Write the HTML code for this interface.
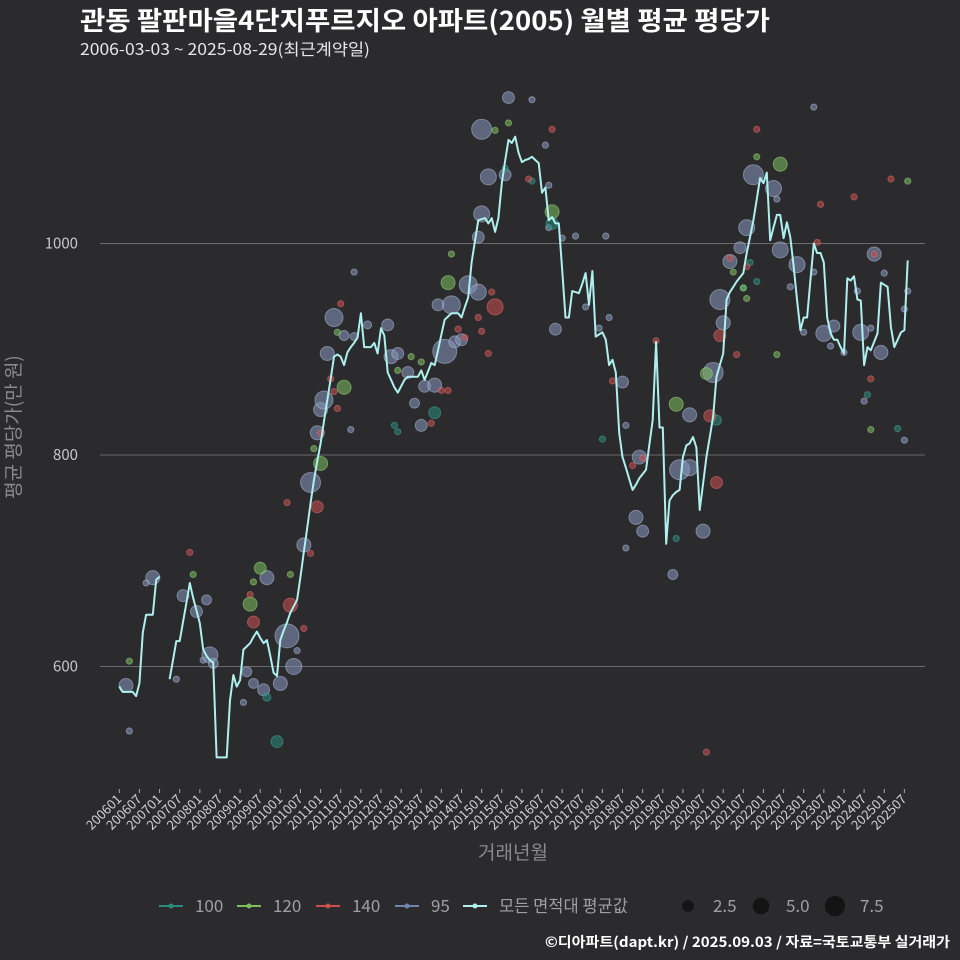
<!DOCTYPE html>
<html><head><meta charset="utf-8">
<style>
html,body{margin:0;padding:0;background:#2b2b2d;}
svg{display:block;font-family:"Noto Sans CJK KR","Liberation Sans",sans-serif;}
</style></head>
<body>
<svg id="chart" width="960" height="960" viewBox="0 0 960 960">
<rect x="0" y="0" width="960" height="960" fill="#2b2b2d"/>
<text x="80" y="30" fill="#ffffff" font-size="26" font-weight="bold" textLength="690" lengthAdjust="spacingAndGlyphs">관동 팔판마을4단지푸르지오 아파트(2005) 월별 평균 평당가</text>
<text x="80" y="55" fill="#e8e8e8" font-size="16" textLength="290" lengthAdjust="spacingAndGlyphs">2006-03-03 ~ 2025-08-29(최근계약일)</text>
<g id="grid"></g>
<g id="yticks"></g>
<g id="xticks"></g>
<g id="bubbles"></g>
<g id="line"></g>
<text x="20" y="427" fill="#8a8a8a" font-size="19" text-anchor="middle" transform="rotate(-90 20 427)">평균 평당가(만 원)</text>
<text x="513" y="859" fill="#8a8a8a" font-size="19" text-anchor="middle">거래년월</text>
<g id="legend"></g>
<text x="950" y="947" fill="#ffffff" font-size="14" font-weight="bold" text-anchor="end" textLength="405" lengthAdjust="spacingAndGlyphs">©디아파트(dapt.kr) / 2025.09.03 / 자료=국토교통부 실거래가</text>
</svg>
<script>
const yTicks = [600, 800, 1000];
const startYear = 2006;
const avgValues = [581,576,576,576,576,572,584,632,649,649,649,682,685,null,null,588,606,624,624,642,660,679,665,653,641,616,610,606,604,514,514,514,514,568,592,581,587,616,619,622,628,633,627,622,625,610,594,591,625,634,642,651,657,663,685,708,731,754,776,794,811,832,852,872,893,895,893,885,897,902,906,911,934,902,902,902,906,896,920,913,878,871,864,859,865,871,874,874,874,874,880,871,879,887,885,899,914,928,931,934,934,934,930,940,949,982,1002,1022,1023,1024,1019,1024,1011,1024,1057,1078,1098,1095,1101,1086,1077,1079,1080,1082,1079,1076,1048,1053,1022,1025,1019,1019,975,930,930,955,954,953,962,972,942,974,912,914,916,909,885,890,878,821,798,788,777,767,772,778,782,786,810,833,907,826,826,716,757,762,765,767,798,809,811,817,807,748,773,798,817,836,874,885,896,947,954,959,964,968,972,991,1006,1022,1042,1062,1057,1067,1003,1015,1027,1027,1005,1020,1006,978,947,918,930,930,965,1000,991,991,982,930,915,909,909,902,896,967,965,969,947,946,885,902,899,907,915,963,961,959,921,902,909,916,918,984];
const pts95Month = [2,3,8,10,17,19,23,25,27,26,28,38,37,40,43,44,48,52,50,53,55,57,59,60,62,64,67,70,70,61,69,74,80,81,83,86,88,90,91,94,97,100,95,99,104,107,102,107,108,110,108,115,116,123,128,127,128,130,132,136,143,139,145,146,150,151,151,154,156,155,165,167,170,170,174,177,180,179,182,185,187,189,195,196,197,202,204,200,207,210,213,212,216,221,224,227,225,228,220,207,234,235,234,222];
const pts95Value = [582,539,679,684,588,667,652,606,611,663,603,595,566,584,578,684,584,600,629,615,715,774,821,843,896,930,913,912,973,852,824,923,923,893,896,878,849,828,865,866,898,907,942,942,961,954,909,1006,1028,1063,1108,1065,1138,1136,1055,1093,1015,919,1005,1007,920,940,1007,930,869,828,712,741,728,798,687,786,788,838,728,878,925,947,983,996,1015,1065,1052,1042,994,980,916,959,973,915,922,903,897,916,920,897,990,972,955,1129,814,955,938,851];
const pts95Size = [3.6,0.7,0.7,3.6,0.7,2.6,2.6,0.7,4.7,1.8,1.8,1.8,0.7,1.8,2.6,3.6,3.6,4.7,10.5,0.7,3.6,7.3,3.6,3.6,3.6,5.9,1.8,1.2,0.7,5.9,0.7,1.2,2.6,3.6,2.6,2.6,1.8,2.6,2.6,3.6,10.5,2.6,2.6,5.9,5.9,4.7,2.6,2.6,4.7,4.7,7.3,2.6,2.6,0.7,0.7,0.7,0.7,2.6,0.7,0.7,0.7,0.7,0.7,0.7,2.6,0.7,0.7,3.6,2.6,3.6,1.8,7.3,4.7,3.6,3.6,7.3,3.6,7.3,3.6,2.6,4.7,7.3,4.7,0.7,4.7,4.7,0.7,0.7,0.7,4.7,2.6,0.7,0.7,4.7,0.7,3.6,3.6,0.7,0.7,0.7,0.7,0.7,0.7,0.7];
const pts100Month = [47,44,94,83,82,115,123,166,178,232,223,188,186,190,129,144];
const pts100Value = [529,571,840,822,828,1071,1059,721,833,825,857,982,958,964,1019,815];
const pts100Size = [2.6,1.2,2.6,0.7,0.7,0.7,0.7,0.7,1.8,0.7,0.7,0.7,0.7,0.7,2.6,0.7];
const pts120Month = [3,22,39,42,40,51,60,67,87,99,98,112,129,175,166,197,190,183,187,186,235,224,196,83,90,58,65,116];
const pts120Value = [605,687,659,693,680,687,792,864,893,990,963,1107,1030,877,848,1075,1082,973,948,958,1059,824,895,880,888,806,916,1114];
const pts120Size = [0.7,0.7,3.6,2.6,0.7,0.7,3.6,3.6,0.7,0.7,3.6,0.7,3.6,2.6,3.6,3.6,0.7,0.7,0.7,0.7,0.7,0.7,0.7,0.7,0.7,0.7,0.7,0.7];
const pts140Month = [21,40,39,50,59,51,55,57,66,63,64,65,60,96,98,93,112,111,107,108,110,101,103,122,129,160,147,156,153,176,178,179,184,182,187,190,175,209,219,230,208,225,224];
const pts140Value = [708,642,668,755,751,658,636,707,943,872,860,844,821,861,861,830,940,954,930,917,896,919,911,1061,1108,908,870,797,790,837,774,913,895,986,978,1108,519,1037,1044,1061,1001,990,872];
const pts140Size = [0.7,2.6,0.7,0.7,2.6,3.6,0.7,0.7,0.7,0.7,0.7,0.7,0.7,0.7,0.7,0.7,4.7,0.7,0.7,0.7,0.7,0.7,0.7,0.7,0.7,0.7,0.7,0.7,0.7,2.6,2.6,2.6,0.7,0.7,0.7,0.7,0.7,0.7,0.7,0.7,0.7,0.7,0.7];
const legendLabels = ['100','120','140','95','모든 면적대 평균값'];
const sizeLegend = [2.5, 5.0, 7.5];

const NS = 'http://www.w3.org/2000/svg';
const X0 = 119.3, XM = 3.355;
function xScale(m){ return X0 + m * XM; }
function yScale(v){ return 455 - (v - 800) * 1.0575; }
function rScale(s){ return 3.7 * Math.sqrt(s); }
function mk(tag, attrs, parent){ const e = document.createElementNS(NS, tag); for (const k in attrs) e.setAttribute(k, attrs[k]); parent.appendChild(e); return e; }

const grid = document.getElementById('grid');
const yt = document.getElementById('yticks');
yTicks.forEach(v => {
  const l = mk('line', {x1: 100, x2: 925, y1: yScale(v), y2: yScale(v), stroke: '#6a6a6a', 'stroke-width': 1}, grid);
  
  
  const t = mk('text', {x: 78, y: yScale(v) + 5, fill: '#c8c8c8', 'font-size': 15, 'text-anchor': 'end'}, yt);
  t.textContent = v;
  
  
});

const xt = document.getElementById('xticks');
const lastMonth = avgValues.length - 1;
for (let m = 0; m <= lastMonth; m += 6) {
  const x = xScale(m);
  const tk = mk('line', {x1: x, x2: x, y1: 789, y2: 793, stroke: '#aaaaaa', 'stroke-width': 1}, xt);
  
  
  const yr = startYear + Math.floor(m / 12);
  const mo = (m % 12) + 1;
  const lab = '' + yr + (mo < 10 ? '0' + mo : mo);
  const t = mk('text', {x: x + 3, y: 800, fill: '#d0d0d0', 'font-size': 13, 'text-anchor': 'end', transform: 'rotate(-45 ' + (x + 3) + ' 800)'}, xt);
  t.textContent = lab;
  
  
}

const bub = document.getElementById('bubbles');
function drawPts(months, values, sizes, fill, stroke, name){
  months.forEach((m, i) => {
    const c = mk('circle', {cx: xScale(m), cy: yScale(values[i]), r: rScale(sizes[i]), fill: fill, 'fill-opacity': 0.55, stroke: stroke, 'stroke-opacity': 0.5, 'stroke-width': 1}, bub);
    
    
  });
}
drawPts(pts95Month, pts95Value, pts95Size, '#8797bd', '#b6c3e0', 'point-95');
drawPts(pts100Month, pts100Value, pts100Size, '#2a8a7e', '#3fb0a0', 'point-100');
drawPts(pts120Month, pts120Value, pts120Size, '#7cbf5c', '#9fdc7f', 'point-120');
drawPts(pts140Month, pts140Value, pts140Size, '#cc4e4e', '#e87070', 'point-140');

const lg = document.getElementById('line');
let d = '', pen = false;
avgValues.forEach((v, m) => {
  if (v === null) { pen = false; return; }
  d += (pen ? 'L' : 'M') + xScale(m).toFixed(1) + ' ' + yScale(v).toFixed(1);
  pen = true;
});
const path = mk('path', {d: d, fill: 'none', stroke: '#aef0ee', 'stroke-width': 2, 'stroke-linejoin': 'round'}, lg);



const leg = document.getElementById('legend');
const legColors = ['#2a8a7e', '#7cbf5c', '#cc4e4e', '#6f87b0', '#aef0ee'];
const legX = [159, 237, 316, 395, 463];
const legW = [0, 0, 0, 0, 129];
legendLabels.forEach((lab, i) => {
  const g = mk('g', {}, leg);
  
  
  mk('line', {x1: legX[i], x2: legX[i] + 24, y1: 906, y2: 906, stroke: legColors[i], 'stroke-width': 2}, g);
  mk('circle', {cx: legX[i] + 12, cy: 906, r: 2.5, fill: legColors[i]}, g);
  const attrs = {x: legX[i] + 36, y: 912, fill: '#a0a0a0', 'font-size': 17};
  if (legW[i]) { attrs.textLength = legW[i]; attrs.lengthAdjust = 'spacingAndGlyphs'; }
  const t = mk('text', attrs, g);
  t.textContent = lab;
});
const sizeCx = [688, 761, 835];
sizeLegend.forEach((s, i) => {
  const g = mk('g', {}, leg);
  
  
  mk('circle', {cx: sizeCx[i], cy: 906, r: rScale(s), fill: '#141414'}, g);
  const t = mk('text', {x: sizeCx[i] + 25, y: 912, fill: '#a0a0a0', 'font-size': 17}, g);
  t.textContent = s.toFixed(1);
});
</script>
</body></html>
